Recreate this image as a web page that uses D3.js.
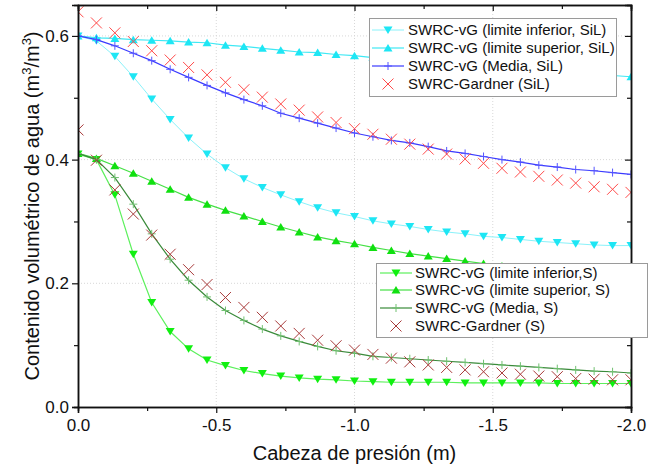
<!DOCTYPE html>
<html>
<head>
<meta charset="utf-8">
<script src="https://cdn.jsdelivr.net/npm/d3@7"></script>
<style>
  body { margin: 0; background: #fff; }
  text { font-family: Arial, "Liberation Sans", sans-serif; }
</style>
</head>
<body>
<svg id="mainSvg" width="652" height="470"></svg>
<script>
// pressure head, 31 points from 0 to -2 m
var heads = d3.range(31).map(function(i) { return -i / 15; });

// SiL curves
var silLower = [0.600,0.592,0.567,0.534,0.498,0.465,0.435,0.409,0.387,0.369,0.355,0.343,0.332,0.322,0.314,0.308,0.301,0.296,0.292,0.287,0.283,0.280,0.276,0.274,0.271,0.268,0.266,0.264,0.262,0.261,0.261];
var silUpper = [0.600,0.597,0.596,0.594,0.593,0.592,0.590,0.589,0.585,0.583,0.580,0.577,0.574,0.573,0.570,0.568,0.565,0.562,0.560,0.557,0.555,0.552,0.550,0.548,0.546,0.544,0.542,0.540,0.538,0.536,0.534];
var silMean  = [0.600,0.594,0.584,0.572,0.560,0.546,0.533,0.520,0.508,0.497,0.487,0.475,0.467,0.459,0.451,0.443,0.437,0.431,0.427,0.421,0.414,0.410,0.405,0.400,0.396,0.391,0.388,0.384,0.382,0.379,0.376];
var silGardner = [0.639,0.621,0.605,0.591,0.576,0.561,0.549,0.537,0.525,0.513,0.501,0.490,0.480,0.469,0.460,0.450,0.441,0.433,0.425,0.417,0.409,0.401,0.394,0.386,0.380,0.373,0.367,0.362,0.356,0.352,0.347];

// S curves
var sLower = [0.409,0.400,0.343,0.247,0.169,0.122,0.094,0.076,0.067,0.059,0.054,0.050,0.047,0.045,0.044,0.042,0.041,0.040,0.040,0.040,0.040,0.039,0.039,0.039,0.039,0.039,0.038,0.038,0.038,0.038,0.038];
var sUpper = [0.410,0.402,0.390,0.378,0.365,0.352,0.339,0.328,0.318,0.309,0.300,0.291,0.283,0.275,0.269,0.264,0.258,0.253,0.248,0.244,0.240,0.236,0.232,0.228,0.224,0.221,0.217,0.214,0.211,0.207,0.205];
var sMean  = [0.410,0.400,0.371,0.328,0.280,0.239,0.205,0.178,0.156,0.140,0.126,0.115,0.106,0.098,0.091,0.087,0.082,0.080,0.078,0.076,0.074,0.072,0.070,0.068,0.066,0.064,0.062,0.060,0.058,0.057,0.055];
var sGardner = [0.448,0.399,0.351,0.312,0.278,0.247,0.222,0.198,0.177,0.161,0.145,0.131,0.119,0.108,0.099,0.092,0.085,0.079,0.073,0.068,0.064,0.060,0.057,0.055,0.053,0.050,0.049,0.046,0.045,0.044,0.044];

var xMajor = [0, -0.5, -1, -1.5, -2];
var xMinor = [-0.25, -0.75, -1.25, -1.75];
var yMajor = [0, 0.2, 0.4, 0.6];
var yMinor = [0.1, 0.3, 0.5];

var silLabels = ["SWRC-vG (limite inferior, SiL)", "SWRC-vG (limite superior, SiL)", "SWRC-vG (Media, SiL)", "SWRC-Gardner (SiL)"];
var sLabels = ["SWRC-vG (limite inferior,S)", "SWRC-vG (limite superior, S)", "SWRC-vG (Media, S)", "SWRC-Gardner (S)"];

var series = [
  {values: silLower,   label: silLabels[0], line: "#8af2fa", lw: 1,   mark: "down",  fill: "#1ee6f4"},
  {values: silUpper,   label: silLabels[1], line: "#3fe8f4", lw: 1.2, mark: "up",    fill: "#1ee6f4"},
  {values: silMean,    label: silLabels[2], line: "#3a3aff", lw: 1.2, mark: "plus",  fill: "#5555ff"},
  {values: silGardner, label: silLabels[3], line: null,      lw: 0,   mark: "cross", fill: "#ff4a4a"},
  {values: sLower,     label: sLabels[0],   line: "#5cf05c", lw: 1.2, mark: "down",  fill: "#10f010"},
  {values: sUpper,     label: sLabels[1],   line: "#45e045", lw: 1.2, mark: "up",    fill: "#10e010"},
  {values: sMean,      label: sLabels[2],   line: "#3a8a3a", lw: 1.2, mark: "plus",  fill: "#70c070"},
  {values: sGardner,   label: sLabels[3],   line: null,      lw: 0,   mark: "cross", fill: "#a83a3a"}
];

var pLeft = 78, pRight = 631, pTop = 5, pBottom = 407;

var x = d3.scaleLinear().domain([0, -2]).range([pLeft, pRight]);
var y = d3.scaleLinear().domain([0, 0.65]).range([pBottom, pTop]);

var svg = d3.select("#mainSvg");

svg.append("defs").append("clipPath").attr("id", "plotClip")
  .append("rect").attr("x", pLeft).attr("y", pTop)
  .attr("width", pRight - pLeft).attr("height", pBottom - pTop);

// grid
var grid = svg.append("g").attr("class", "grid");
grid.selectAll(".gx").data(xMajor.slice(1, 4)).enter().append("line")
  .attr("x1", function(d) { return x(d); }).attr("x2", function(d) { return x(d); })
  .attr("y1", pTop).attr("y2", pBottom);
grid.selectAll(".gy").data(yMajor.slice(1)).enter().append("line")
  .attr("x1", pLeft).attr("x2", pRight)
  .attr("y1", function(d) { return y(d); }).attr("y2", function(d) { return y(d); });
grid.selectAll("line").attr("stroke", "#d8d8d8").attr("stroke-width", 1).attr("stroke-dasharray", "1,2");

function markerPath(type) {
  if (type == "down") return "M-4.5,-3.5L4.5,-3.5L0,4Z";
  if (type == "up") return "M-4.5,3.5L4.5,3.5L0,-4Z";
  if (type == "plus") return "M-4,0L4,0M0,-4L0,4";
  return "M-5.5,-5.5L5.5,5.5M-5.5,5.5L5.5,-5.5";
}

function drawMarker(sel, s) {
  sel.attr("d", markerPath(s.mark));
  if (s.mark == "down" || s.mark == "up") {
    sel.attr("fill", s.fill).attr("stroke", "none");
  } else {
    sel.attr("fill", "none").attr("stroke", s.fill).attr("stroke-width", 1);
  }
}

var line = d3.line()
  .x(function(d, i) { return x(heads[i]); })
  .y(function(d) { return y(d); });

var plot = svg.append("g").attr("clip-path", "url(#plotClip)");

series.forEach(function(s) {
  if (s.line) {
    plot.append("path")
      .attr("d", line(s.values))
      .attr("fill", "none")
      .attr("stroke", s.line)
      .attr("stroke-width", s.lw);
  }
  plot.selectAll(null)
    .data(s.values)
    .enter()
    .append("path")
    .attr("transform", function(d, i) { return "translate(" + x(heads[i]) + "," + y(d) + ")"; })
    .call(drawMarker, s);
});

// axes
function fmt(d) { return d.toFixed(1); }

svg.append("g").attr("transform", "translate(0," + pBottom + ")")
  .call(d3.axisBottom(x).tickValues(xMajor).tickFormat(fmt).tickSize(6).tickPadding(6));
svg.append("g").attr("transform", "translate(0," + pBottom + ")")
  .call(d3.axisBottom(x).tickValues(xMinor).tickFormat("").tickSize(4));
svg.append("g").attr("transform", "translate(0," + pTop + ")")
  .call(d3.axisTop(x).tickValues(xMajor).tickFormat("").tickSize(-6));
svg.append("g").attr("transform", "translate(0," + pTop + ")")
  .call(d3.axisTop(x).tickValues(xMinor).tickFormat("").tickSize(-4));

svg.append("g").attr("transform", "translate(" + pLeft + ",0)")
  .call(d3.axisLeft(y).tickValues(yMajor).tickFormat(fmt).tickSize(6).tickPadding(3));
svg.append("g").attr("transform", "translate(" + pLeft + ",0)")
  .call(d3.axisLeft(y).tickValues(yMinor).tickFormat("").tickSize(4));
svg.append("g").attr("transform", "translate(" + pRight + ",0)")
  .call(d3.axisRight(y).tickValues(yMajor).tickFormat("").tickSize(-6));
svg.append("g").attr("transform", "translate(" + pRight + ",0)")
  .call(d3.axisRight(y).tickValues(yMinor).tickFormat("").tickSize(-4));

svg.selectAll(".domain").attr("stroke", "#111").attr("stroke-width", 1.5);
svg.selectAll(".tick line").attr("stroke", "#111").attr("stroke-width", 1.2);
svg.selectAll(".tick text").attr("font-size", 17).attr("fill", "#111")
  .style("font-family", "Arial, 'Liberation Sans', sans-serif");

// axis titles
svg.append("text")
  .attr("x", (pLeft + pRight) / 2).attr("y", 460)
  .attr("text-anchor", "middle").attr("font-size", 20).attr("fill", "#111")
  .text("Cabeza de presión (m)");

var yt = svg.append("text")
  .attr("transform", "translate(32," + (pTop + pBottom) / 2 + ") rotate(-90)")
  .attr("text-anchor", "middle").attr("dy", "0.35em")
  .attr("font-size", 20).attr("fill", "#111");
yt.append("tspan").text("Contenido volumétrico de agua (m");
yt.append("tspan").attr("font-size", 13).attr("dy", -8).text("3");
yt.append("tspan").attr("dy", 8).text("/m");
yt.append("tspan").attr("font-size", 13).attr("dy", -8).text("3");
yt.append("tspan").attr("dy", 8).text(")");

// legends
function drawLegend(items, bx, by, bw, bh, rows, lineX0, lineX1, textX) {
  var g = svg.append("g").attr("class", "legend");
  g.append("rect").attr("x", bx).attr("y", by).attr("width", bw).attr("height", bh)
    .attr("fill", "#fff").attr("stroke", "#9a9a9a").attr("stroke-width", 1);
  items.forEach(function(s, i) {
    var ry = rows[i];
    if (s.line) {
      g.append("line").attr("x1", lineX0).attr("x2", lineX1).attr("y1", ry).attr("y2", ry)
        .attr("stroke", s.line).attr("stroke-width", s.lw);
    }
    g.append("path").attr("transform", "translate(" + (lineX0 + lineX1) / 2 + "," + ry + ")")
      .call(drawMarker, s);
    g.append("text").attr("x", textX).attr("y", ry).attr("dy", "0.35em")
      .attr("font-size", 15).attr("fill", "#111").text(s.label);
  });
}

drawLegend(series.slice(0, 4), 369.5, 18.5, 247, 78, [30, 48, 66, 84], 372, 404, 408);
drawLegend(series.slice(4), 376.5, 263.5, 271, 74, [273, 290, 308, 326], 380, 412, 415);
</script>
</body>
</html>
